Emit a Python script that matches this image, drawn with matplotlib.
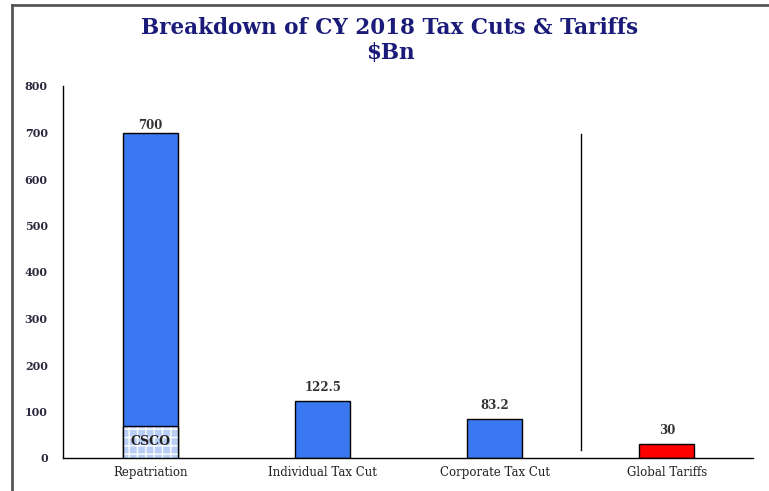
import matplotlib
matplotlib.use("Agg")
import matplotlib.pyplot as plt
from matplotlib.lines import Line2D

categories = ["Repatriation", "Individual Tax Cut", "Corporate Tax Cut", "Global Tariffs"]
values = [700, 122.5, 83.2, 30]
value_labels = ["700", "122.5", "83.2", "30"]
csco_value = 69
yticks = [0, 100, 200, 300, 400, 500, 600, 700, 800]

plt.rcParams['font.family'] = ['DejaVu Serif']

fig = plt.figure(figsize=(7.69, 4.91), dpi=100)
ax = fig.add_axes([63/769, 1-458/491, (753-63)/769, (458-86)/491])

colors = ["#3a78f2", "#3a78f2", "#3a78f2", "#ff0000"]
x = list(range(len(categories)))
ax.bar(x, values, width=0.32, color=colors, edgecolor="black", linewidth=1, zorder=2)

# CSCO segment
ax.bar([0], [csco_value], width=0.32, color="#b9cff6", edgecolor="white",
       hatch="++", linewidth=0, zorder=3)
ax.bar([0], [csco_value], width=0.32, fill=False, edgecolor="black", linewidth=1, zorder=4)
ax.text(0, csco_value/2, "CSCO", ha="center", va="center", fontsize=9,
        fontweight="bold", color="#222222", zorder=5)

for xi, v, lab in zip(x, values, value_labels):
    ax.annotate(lab, (xi, v), xytext=(0, 0.5 if v > 500 else 5), textcoords="offset points",
                ha="center", va="bottom", fontsize=8.5, fontweight="bold", color="#333333")

# separator line
ax.plot([2.5, 2.5], [17, 697], color="black", linewidth=1, zorder=1)

ax.set_xlim(-0.51, 3.5)
ax.set_ylim(0, 800)
ax.set_yticks(yticks)
ax.set_yticklabels([str(t) for t in yticks], fontsize=8, fontweight="bold", color="#2a2a40")
ax.set_xticks(x)
ax.set_xticklabels(categories, fontsize=8.5, color="#222222")
ax.tick_params(axis="both", length=0)
ax.tick_params(axis="y", pad=11)
ax.tick_params(axis="x", pad=6)
for s in ["top", "right"]:
    ax.spines[s].set_visible(False)
ax.spines["left"].set_linewidth(1)
ax.spines["bottom"].set_linewidth(1)

fig.text(390/769, 1-28/491, "Breakdown of CY 2018 Tax Cuts & Tariffs", ha="center", va="center",
         fontsize=15.5, fontweight="bold", color="#1b1b7a")
fig.text(390/769, 1-53/491, "$Bn", ha="center", va="center",
         fontsize=15.5, fontweight="bold", color="#1b1b7a")

# frame lines
fig.add_artist(Line2D([12/769, 12/769], [0, 1-5/491], color="#555555", linewidth=2, transform=fig.transFigure))
fig.add_artist(Line2D([12/769, 1], [1-5/491, 1-5/491], color="#555555", linewidth=2, transform=fig.transFigure))

fig.savefig("out.png", dpi=100)
